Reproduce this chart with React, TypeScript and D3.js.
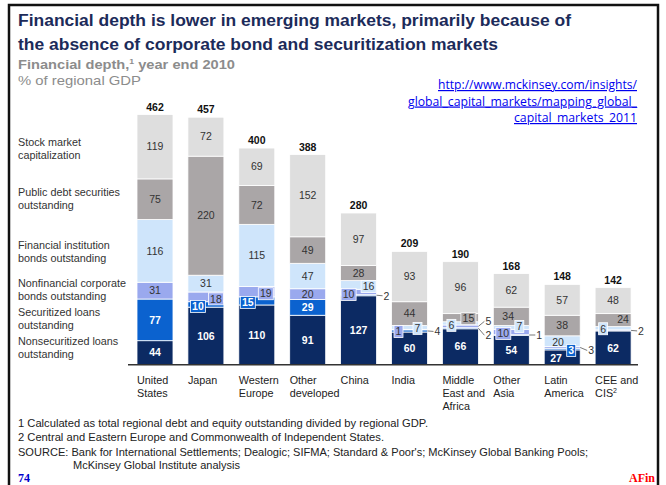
import React from "react";
import * as d3 from "d3";

const categories = ["United States", "Japan", "Western Europe", "Other developed", "China", "India", "Middle East and Africa", "Other Asia", "Latin America", "CEE and CIS"];
const categoryLines = [["United", "States"], ["Japan"], ["Western", "Europe"], ["Other", "developed"], ["China"], ["India"], ["Middle", "East and", "Africa"], ["Other", "Asia"], ["Latin", "America"], ["CEE and", "CIS²"]];

const nonsecuritized = [44, 106, 110, 91, 127, 60, 66, 54, 27, 62];
const securitized = [77, 10, 15, 29, 2, 4, 2, 1, 3, 0];
const nonfinancialBonds = [31, 18, 19, 20, 10, 1, 5, 10, 3, 2];
const financialBonds = [116, 31, 115, 47, 16, 7, 6, 7, 20, 6];
const publicDebt = [75, 220, 72, 49, 28, 44, 15, 34, 38, 24];
const stockMarket = [119, 72, 69, 152, 97, 93, 96, 62, 57, 48];
const totals = [462, 457, 400, 388, 280, 209, 190, 168, 148, 142];

const seriesKeys = ["nonsec", "sec", "nonfin", "fin", "pub", "stock"];
const seriesValues = [nonsecuritized, securitized, nonfinancialBonds, financialBonds, publicDebt, stockMarket];
const seriesColors = ["#0c2a63", "#0b62cf", "#9aa9ee", "#cfe5fb", "#aaa6a7", "#dedede"];
const seriesTextColors = ["#ffffff", "#ffffff", "#333333", "#333333", "#333333", "#333333"];

const legendLabels = [
  ["Stock market", "capitalization"],
  ["Public debt securities", "outstanding"],
  ["Financial institution", "bonds outstanding"],
  ["Nonfinancial corporate", "bonds outstanding"],
  ["Securitized loans", "outstanding"],
  ["Nonsecuritized loans", "outstanding"],
];
const legendY = [142, 192, 245, 283, 312, 341];

const footnotes = [
  "1  Calculated as total regional debt and equity outstanding divided by regional GDP.",
  "2  Central and Eastern Europe and Commonwealth of Independent States.",
];
const footnoteWidths = [410, 366];
const sourceLines = ["SOURCE: Bank for International Settlements; Dealogic; SIFMA; Standard & Poor's; McKinsey Global Banking Pools;", "McKinsey Global Institute analysis"];
const sourceWidths = [570, 167];
const urlLines = ["http://www.mckinsey.com/insights/", "global_capital_markets/mapping_global_", "capital_markets_2011"];

// label placement tweaks: key "catIndex|seriesIndex"
type Place = { mode: "box" | "callout" | "in"; dx?: number; dy?: number; tx?: number; ty?: number };
const placements: Record<string, Place> = {
  "1|1": { mode: "box", dx: 10, dy: 2 },
  "1|2": { mode: "box", dx: 28, dy: 2 },
  "2|1": { mode: "box", dx: 9, dy: 1.5 },
  "2|2": { mode: "box", dx: 27, dy: 2 },
  "4|2": { mode: "box", dx: 8, dy: 2.5 },
  "4|3": { mode: "box", dx: 28, dy: 1.5 },
  "4|1": { mode: "callout", tx: 7, ty: 0.5 },
  "5|2": { mode: "box", dx: 7, dy: 2 },
  "5|3": { mode: "box", dx: 26, dy: 1 },
  "5|1": { mode: "callout", tx: 7, ty: 0.5 },
  "6|3": { mode: "box", dx: 9, dy: 2 },
  "6|4": { mode: "box", dx: 26, dy: 1 },
  "6|2": { mode: "callout", tx: 7, ty: -5 },
  "6|1": { mode: "callout", tx: 7, ty: 7 },
  "7|2": { mode: "box", dx: 10, dy: 1.5 },
  "7|3": { mode: "box", dx: 26, dy: -1 },
  "7|1": { mode: "callout", tx: 7, ty: 0 },
  "7|4": { mode: "in", dx: 9 },
  "8|0": { mode: "in", dx: 6, dy: 1.5 },
  "8|3": { mode: "in", dx: 8, dy: 0.5 },
  "8|1": { mode: "box", dx: 27, dy: 1.5 },
  "8|2": { mode: "callout", tx: 8, ty: 3 },
  "9|3": { mode: "box", dx: 8, dy: 0.5 },
  "9|4": { mode: "in", dx: 28, dy: -0.5 },
  "9|2": { mode: "callout", tx: 7, ty: 0.5 },
};

const W = 666;
const H = 485;
const FONT = "'Liberation Sans', Arial, sans-serif";

export default function App() {
  const x = d3.scaleBand<string>().domain(categories).range([137, 631.1]).paddingInner(0.293).paddingOuter(0);
  const y = d3.scaleLinear().domain([0, 462]).range([364.5, 114.5]);
  const bw = x.bandwidth();

  const table = categories.map((c, i) => {
    const row: any = { cat: c };
    seriesKeys.forEach((k, s) => (row[k] = seriesValues[s][i]));
    return row;
  });
  const stacked = d3.stack<any>().keys(seriesKeys)(table);

  const segs: React.ReactNode[] = [];
  const labels: React.ReactNode[] = [];

  stacked.forEach((layer, s) => {
    layer.forEach((d, i) => {
      const v = d[1] - d[0];
      if (v <= 0) return;
      const x0 = x(categories[i])!;
      const yTop = y(d[1]);
      const yBot = y(d[0]);
      segs.push(
        <rect key={`r${s}-${i}`} x={x0} y={yTop} width={bw} height={Math.max(0, yBot - yTop)} fill={seriesColors[s]} stroke="#ffffff" strokeWidth={0.8} />
      );
      const cy = (yTop + yBot) / 2;
      const p = placements[`${i}|${s}`];
      const txt = String(v);
      const bold = s < 2;
      const fs = 10.5;
      if (!p) {
        labels.push(
          <text key={`t${s}-${i}`} x={x0 + bw / 2} y={cy} dy="0.36em" textAnchor="middle" fontSize={fs} fontWeight={bold ? 700 : 400} fill={seriesTextColors[s]} fontFamily={FONT}>{txt}</text>
        );
      } else if (p.mode === "in") {
        labels.push(
          <text key={`t${s}-${i}`} x={x0 + (p.dx ?? bw / 2)} y={cy + (p.dy ?? 0)} dy="0.36em" textAnchor={p.dx !== undefined && p.dx < bw / 2 ? "start" : "middle"} fontSize={fs} fontWeight={bold ? 700 : 400} fill={seriesTextColors[s]} fontFamily={FONT}>{txt}</text>
        );
      } else if (p.mode === "box") {
        const tw = txt.length * 6 + 3;
        const cx = x0 + (p.dx ?? 0);
        const by = cy + (p.dy ?? 0);
        labels.push(
          <g key={`t${s}-${i}`}>
            <rect x={cx - tw / 2} y={by - 6} width={tw} height={12} fill={seriesColors[s]} stroke="#ffffff" strokeWidth={0.8} />
            <text x={cx} y={by} dy="0.36em" textAnchor="middle" fontSize={fs} fontWeight={bold ? 700 : 400} fill={seriesTextColors[s]} fontFamily={FONT}>{txt}</text>
          </g>
        );
      } else {
        const xr = x0 + bw;
        const tx = xr + (p.tx ?? 7);
        const ty = cy + (p.ty ?? 0);
        labels.push(
          <g key={`t${s}-${i}`}>
            <line x1={xr} y1={cy} x2={tx - 1} y2={ty} stroke="#555" strokeWidth={0.8} />
            <text x={tx} y={ty} dy="0.36em" textAnchor="start" fontSize={fs} fill="#333" fontFamily={FONT}>{txt}</text>
          </g>
        );
      }
    });
  });

  return (
    <svg width={W} height={H} style={{ position: "absolute", left: 0, top: 0, background: "#fff" }} fontFamily={FONT}>
      <rect x={0} y={0} width={W} height={H} fill="#ffffff" />
      <rect x={9} y={5} width={649} height={500} fill="none" stroke="#111" strokeWidth={2.5} />

      <text x={18} y={26} fontSize={16} fontWeight={700} fill="#1c2b5a" textLength={553} lengthAdjust="spacingAndGlyphs">Financial depth is lower in emerging markets, primarily because of</text>
      <text x={18} y={50} fontSize={16} fontWeight={700} fill="#1c2b5a" textLength={480} lengthAdjust="spacingAndGlyphs">the absence of corporate bond and securitization markets</text>
      <text x={18} y={69} fontSize={13.5} fontWeight={700} fill="#8c8c8c" textLength={217} lengthAdjust="spacingAndGlyphs">Financial depth,<tspan fontSize={8} dy={-5}>1</tspan><tspan dy={5}> year end 2010</tspan></text>
      <text x={18} y={85} fontSize={13} fill="#8c8c8c" textLength={123} lengthAdjust="spacingAndGlyphs">% of regional GDP</text>

      {urlLines.map((u, k) => (
        <text key={u} x={637} y={89 + k * 16.5} fontSize={12} fill="#0000ee" textAnchor="end" textDecoration="underline" fontFamily="'Open Sans', 'Liberation Sans', sans-serif" textLength={[199, 229, 123][k]} lengthAdjust="spacingAndGlyphs">{u}</text>
      ))}

      {legendLabels.map((ls, k) =>
        ls.map((l, j) => (
          <text key={`${k}-${j}`} x={18} y={legendY[k] + j * 13.5} dy="0.36em" fontSize={10.8} fill="#333">{l}</text>
        ))
      )}

      <g>{segs}</g>
      <g>{labels}</g>

      {totals.map((t, i) => (
        <text key={`tot${i}`} x={x(categories[i])! + bw / 2} y={y(t) - 4} textAnchor="middle" fontSize={10.5} fontWeight={700} fill="#111">{t}</text>
      ))}

      <line x1={128} x2={638} y1={364.8} y2={364.8} stroke="#333" strokeWidth={1.5} />

      {categoryLines.map((ls, i) =>
        ls.map((l, j) => (
          <text key={`c${i}-${j}`} x={x(categories[i])!} y={380 + j * 13} dy="0.36em" fontSize={10.8} fill="#222">
            {l.endsWith("²") ? (<>{l.slice(0, -1)}<tspan fontSize={7} dy={-4}>2</tspan></>) : l}
          </text>
        ))
      )}

      {footnotes.map((f, k) => (
        <text key={f} x={18} y={423 + k * 14} dy="0.36em" fontSize={11} fill="#222" textLength={footnoteWidths[k]} lengthAdjust="spacingAndGlyphs">{f}</text>
      ))}
      <text x={18} y={452} dy="0.36em" fontSize={11} fill="#222" textLength={sourceWidths[0]} lengthAdjust="spacingAndGlyphs">{sourceLines[0]}</text>
      <text x={73} y={465} dy="0.36em" fontSize={11} fill="#222" textLength={sourceWidths[1]} lengthAdjust="spacingAndGlyphs">{sourceLines[1]}</text>

      <text x={18} y={482} fontSize={12} fontWeight={700} fill="#0000cc" fontFamily="'Liberation Serif', serif">74</text>
      <text x={655} y={482} textAnchor="end" fontSize={12} fontWeight={700} fill="#ff0000" fontFamily="'Liberation Serif', serif">AFin</text>
    </svg>
  );
}
